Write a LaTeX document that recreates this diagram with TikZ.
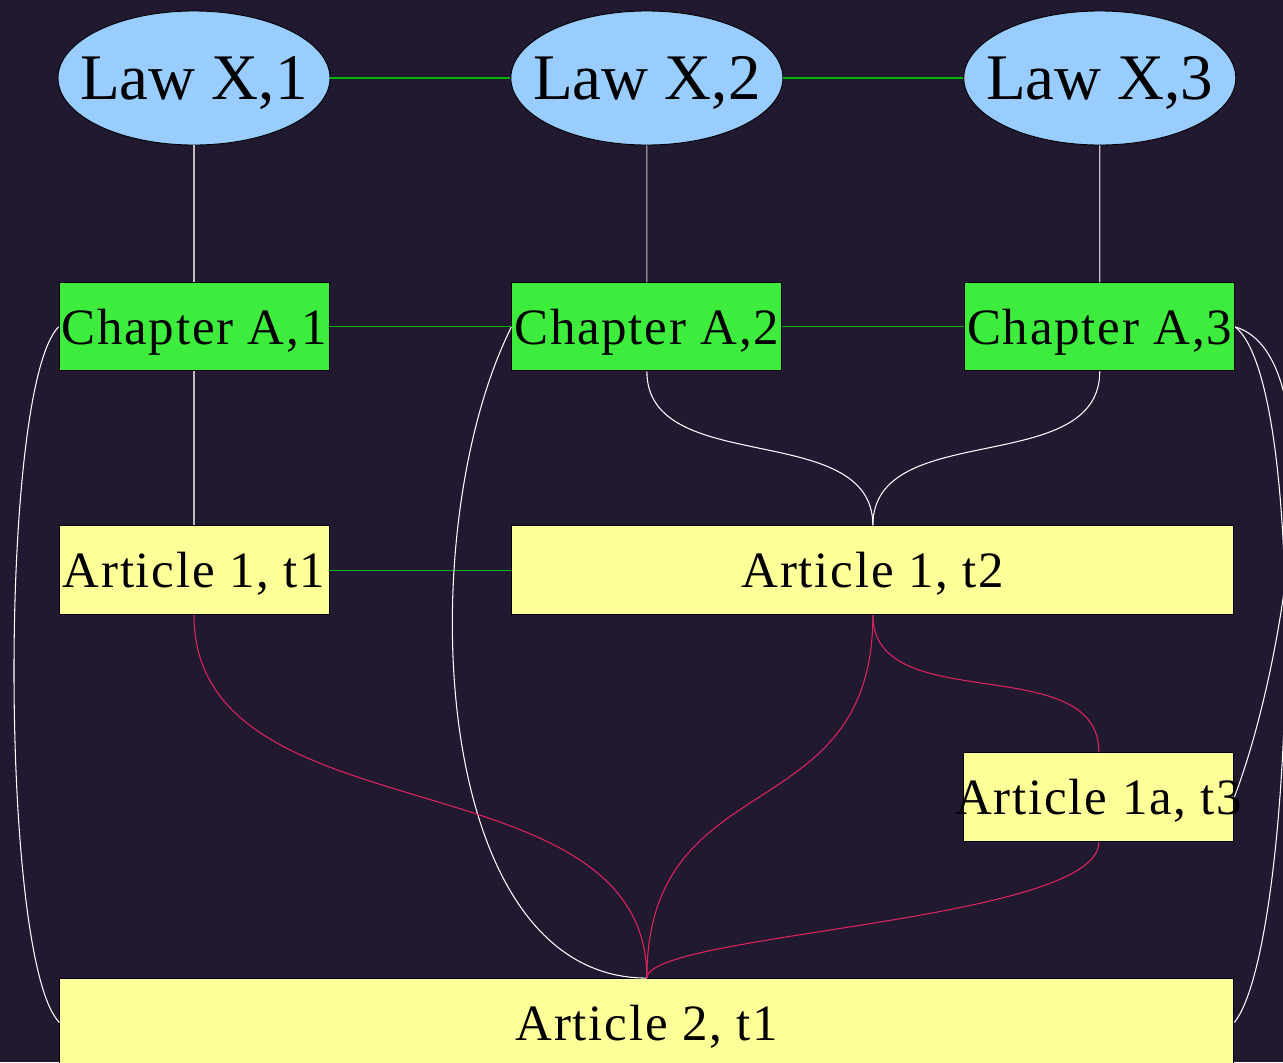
\documentclass[tikz,border=0pt]{standalone}
\usepackage{fontspec}
\setmainfont{Liberation Serif}
\usepackage{xcolor}
\usepackage{tikz}
\usetikzlibrary{shapes,arrows,positioning,calc}

\definecolor{bgcolor}{RGB}{32,25,48}
\definecolor{lawblue}{RGB}{153,204,255}
\definecolor{chapgreen}{RGB}{62,236,62}
\definecolor{artyellow}{RGB}{255,255,153}
\definecolor{linkgreen}{RGB}{0,180,0}
\definecolor{linkred}{RGB}{224,36,94}
\definecolor{linkgray}{RGB}{190,190,190}

\newcommand{\lbl}[1]{\makebox[0pt]{#1}}

\begin{document}
\begin{tikzpicture}[
        lawnode/.style={ellipse, draw, fill=lawblue, inner sep=0pt, minimum width=5.44cm, minimum height=2.68cm, text depth=0pt, font=\fontsize{37}{40}\selectfont, line width=0.5pt},
        chapblock/.style={rectangle, draw, fill=chapgreen, inner sep=0pt, minimum width=5.4cm, minimum height=1.76cm, text depth=0pt, font=\fontsize{29}{32}\selectfont\addfontfeature{LetterSpace=3.5}, line width=0.5pt},
        artblock/.style={rectangle, draw, fill=artyellow, inner sep=0pt, minimum width=5.4cm, minimum height=1.78cm, text depth=0pt, font=\fontsize{29}{32}\selectfont\addfontfeature{LetterSpace=3.5}, line width=0.5pt},
        timeline/.style={draw=linkgreen, line width=0.6pt},
        partline/.style={draw=linkgray, line width=0.6pt},
        moveline/.style={draw=white, line width=0.6pt},
        changeline/.style={draw=linkred, line width=0.6pt}
    ]

    % Background
    \fill [bgcolor] (0,0) rectangle (25.66,-21.24);
    \useasboundingbox (0,0) rectangle (25.66,-21.24);

    % Law Layer
    \node [lawnode] (law1) at (3.88,-1.56) {\lbl{Law X,1}};
    \node [lawnode, right=3.6cm of law1] (law2) {\lbl{Law X,2}};
    \node [lawnode, right=3.6cm of law2] (law3) {\lbl{Law X,3}};

    % Chapter Layer
    \node [chapblock, below=2.74cm of law1] (ch1) {\lbl{Chapter A,1}};
    \node [chapblock, right=3.64cm of ch1] (ch2) {\lbl{Chapter A,2}};
    \node [chapblock, right=3.64cm of ch2] (ch3) {\lbl{Chapter A,3}};

    % Article Layer
    \node [artblock, below=3.08cm of ch1] (art11) {\lbl{Article 1, t1}};
    \node [artblock, minimum width=14.44cm, below right=3.08cm and 0cm of ch2.south west] (art12) {\lbl{Article 1, t2}};
    \node [artblock, below left=2.74cm and 0cm of art12.south east] (art1a) {\lbl{Article 1a, t3}};
    \node [artblock, minimum width=23.48cm, minimum height=1.76cm, anchor=north, yshift=-2.72cm] (art2) at (art1a.south -| ch2) {\lbl{Article 2, t1}};

    % Connections - Versions
    \path [timeline] (law1) -- (law2);
    \path [timeline] (law2) -- (law3);
    \path [timeline] (ch1) -- (ch2);
    \path [timeline] (ch2) -- (ch3);
    \path [timeline] (art11) -- (art12);

    % Connections - Parts
    \path [partline] (law1) -- (ch1);
    \path [partline] (law2) -- (ch2);
    \path [partline] (law3) -- (ch3);
    \path [partline] (ch1) -- (art11);

    % Connections - Moves
    \path [moveline] (ch2.south) to[out=-90, in=90] (art12.north);
    \path [moveline] (ch3.south) to[out=-90, in=90] (art12.north);
    \path [moveline] (ch1.west) .. controls +(-1.2,-1.2) and +(-1.2,1.2) .. (art2.west);
    \path [moveline] (ch2.west) .. controls +(-2,-4) and +(-4.4,0) .. (art2.north);
    \path [moveline] (ch3.east) .. controls +(2,-0.6) and +(1,2.6) .. (art1a.east);
    \path [moveline] (ch3.east) .. controls +(1.5,-1.2) and +(1.2,1.5) .. (art2.east);

    % Connections - Changes
    \path [changeline] (art11.south) to[out=-90, in=90] (art2.north);
    \path [changeline] (art12.south) to[out=-90, in=90, looseness=1.3] (art2.north);
    \path [changeline] (art12.south) to[out=-90, in=90] (art1a.north);
    \path [changeline] (art1a.south) .. controls +(0,-1.6) and +(0,0.9) .. (art2.north);

\end{tikzpicture}
\end{document}
